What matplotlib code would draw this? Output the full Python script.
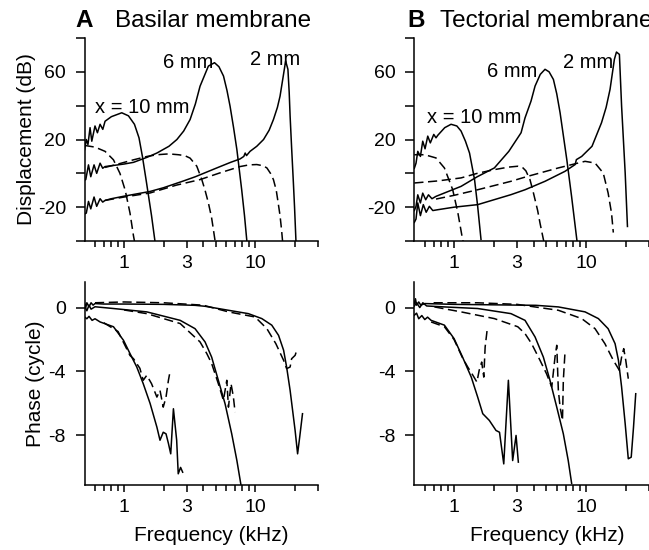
import matplotlib
matplotlib.use("Agg")
import matplotlib.pyplot as plt
from matplotlib.ticker import NullFormatter

plt.rcParams["font.family"] = ["Liberation Sans", "DejaVu Sans"]
plt.rcParams["font.size"] = 14

# ---- displacement (dB) vs frequency (kHz), basilar membrane ----
bm_amp_10 = [(0.5, 14), (0.515, 20), (0.53, 17), (0.55, 27), (0.567, 19), (0.6, 28),
             (0.626, 24), (0.656, 29), (0.688, 26), (0.716, 30.8), (0.8, 33.5),
             (0.96, 35.8), (1.08, 34), (1.2, 29), (1.3, 21), (1.38, 10), (1.48, -5),
             (1.62, -25), (1.72, -40)]
bm_amp_10_d = [(0.5, 16.5), (0.6, 15.5), (0.716, 13), (0.83, 8), (0.93, 0), (1.02, -10),
               (1.11, -23.5), (1.18, -37), (1.2, -40)]
bm_amp_6 = [(0.5, -4), (0.51, -3.7), (0.535, 5), (0.557, -2), (0.59, 5), (0.618, 0),
            (0.656, 6), (0.687, 3), (0.716, 4), (0.8, 4.5), (1.0, 5.5), (1.18, 6.5),
            (1.5, 9.5), (1.78, 12), (2.2, 16), (2.53, 20), (2.85, 25), (3.19, 31.8),
            (3.5, 41), (3.8, 51.5), (4.4, 63.4), (4.9, 65.4), (5.3, 63), (5.74, 57.5),
            (6.1, 49), (6.44, 39.7), (6.85, 27), (7.26, 14), (7.9, -9.7), (8.3, -25),
            (8.65, -40)]
bm_amp_6_d = [(0.716, 3.5), (0.9, 5.5), (1.18, 8), (1.5, 10), (1.78, 11), (2.2, 11.5),
              (2.6, 11), (2.9, 10.5), (3.19, 9), (3.59, 4.2), (3.92, -3.7), (4.15, -10),
              (4.4, -17.5), (4.65, -26), (4.8, -33), (4.95, -40)]
bm_amp_2 = [(0.5, -24), (0.515, -23.5), (0.535, -16.6), (0.557, -21), (0.59, -14),
            (0.618, -19.5), (0.656, -15), (0.687, -17), (0.716, -16), (0.8, -15),
            (1.0, -13.5), (1.58, -10.7), (2.0, -8.5), (2.84, -4.5), (3.5, -2), (5.1, 3.2),
            (6.5, 6.5), (7.67, 8.5), (8.2, 10), (8.4, 12), (8.6, 10.5), (9.15, 13),
            (10.3, 16), (11.6, 20), (12.8, 25.5), (13.8, 31.8), (14.8, 39), (15.5, 45.6),
            (16.4, 57.5), (17.1, 66.4), (17.8, 61.5), (18.2, 48), (18.5, 33.8), (19.0, 15),
            (19.6, -5.7), (20.0, -20), (20.5, -40)]
bm_amp_2_d = [(0.716, -16), (1.0, -14), (1.58, -11.6), (2.5, -7), (3.8, -3.7), (5.5, 0.5),
              (7.67, 4), (9.0, 5), (10.3, 5.2), (11.5, 4.5), (12.3, 3.2), (13.1, 0),
              (13.8, -3.7), (14.5, -10), (15.0, -17.5), (15.5, -25), (15.9, -33), (16.2, -40)]

# ---- displacement (dB), tectorial membrane ----
tm_amp_10 = [(0.5, 3), (0.515, 6), (0.531, 13), (0.556, 10), (0.579, 19), (0.603, 14.5),
             (0.632, 22), (0.661, 18), (0.702, 23), (0.73, 21), (0.753, 22.5), (0.85, 27),
             (0.949, 29), (1.05, 28), (1.13, 25), (1.22, 19), (1.31, 12), (1.43, -3.7),
             (1.51, -19.5), (1.6, -39)]
tm_amp_10_d = [(0.5, 11), (0.6, 11), (0.73, 9.1), (0.845, 3.2), (0.977, -9.7),
               (1.07, -23.5), (1.16, -39), (1.17, -40)]
tm_amp_6 = [(0.5, -22), (0.515, -19.5), (0.531, -12.7), (0.556, -17.5), (0.579, -11.7),
            (0.61, -15.6), (0.64, -12.7), (0.68, -15), (0.73, -13.6), (1.13, -7.7),
            (1.5, -2), (2.02, 3.2), (2.6, 13), (3.22, 24), (3.45, 32.8), (3.83, 42.7),
            (4.11, 51.6), (4.5, 58.5), (4.89, 61.5), (5.25, 60), (5.66, 55.5), (6.0, 47),
            (6.36, 35.8), (7.15, 8.1), (7.77, -13.6), (8.51, -39), (8.55, -40)]
tm_amp_6_d = [(0.5, -5.7), (0.75, -4.5), (1.13, -2.7), (1.5, 0), (2.02, 2.2), (2.6, 3.7),
              (3.04, 4.2), (3.3, 3.5), (3.5, 1.5), (3.76, -3.7), (3.95, -10), (4.11, -15.6),
              (4.3, -22), (4.48, -29.4), (4.75, -39), (4.78, -40)]
tm_amp_2 = [(0.5, -29), (0.515, -27), (0.531, -17.5), (0.556, -25), (0.585, -18.5),
            (0.615, -23), (0.65, -19.5), (0.69, -22), (0.753, -21.5), (1.0, -20),
            (1.51, -18.5), (2.7, -12.6), (3.45, -9.7), (4.89, -4.7), (6.93, 1.2),
            (8.27, 5.2), (8.45, 8.1), (9.27, 10), (11.1, 16), (13.1, 29.9), (14.2, 39),
            (15.2, 49.6), (16.4, 67.4), (17.0, 71.7), (17.9, 70.3), (18.6, 39.7),
            (19.8, 0.2), (20.6, -31.4)]
tm_amp_2_d = [(0.73, -15.2), (1.0, -13), (1.51, -9.7), (2.7, -4.7), (3.6, -1.8),
              (6.17, 3.2), (9.83, 7.1), (11.7, 6.1), (13.5, 0.2), (14.7, -11.6),
              (15.6, -23.5), (16.1, -35)]

# ---- phase (cycle), basilar membrane ----
bm_ph_2 = [(0.5, 0.25), (0.51, 0.0), (0.52, 0.3), (0.54, 0.05), (0.56, 0.3), (0.58, 0.15),
           (0.6, 0.25), (0.7, 0.22), (1.0, 0.22), (2.0, 0.2), (3.48, 0.14), (4.15, 0.08),
           (6.26, -0.17), (8.88, -0.38), (11.25, -0.69), (13.4, -1.1), (15.1, -1.74),
           (16.5, -2.67), (17.4, -3.72), (18.5, -5.18), (20.2, -7.69), (21.1, -9.15),
           (21.9, -8.1), (23.0, -6.64)]
bm_ph_2_d = [(0.6, 0.3), (1.0, 0.35), (2.0, 0.3), (4.0, 0.15), (6.26, -0.27), (10.0, -0.59),
             (12.3, -1.32), (14.4, -2.26), (16.5, -3.3), (17.4, -3.82), (18.5, -3.72),
             (19.0, -3.2), (20.2, -2.99), (20.8, -2.67)]
bm_ph_6 = [(0.5, 0.1), (0.52, -0.2), (0.54, 0.15), (0.56, -0.1), (0.6, 0.05), (0.83, -0.06),
           (1.49, -0.27), (2.68, -0.8), (3.48, -1.32), (4.15, -2.15), (4.66, -3.1),
           (5.24, -4.55), (5.9, -6.02), (6.63, -7.9), (7.26, -9.57), (7.8, -11.1)]
bm_ph_6_d = [(1.0, -0.15), (1.49, -0.38), (2.68, -1.0), (3.8, -2.15), (4.28, -2.88),
             (4.66, -3.5), (5.24, -4.76), (5.73, -5.8), (6.08, -4.55), (6.26, -6.23),
             (6.55, -4.76), (6.83, -5.6), (7.03, -6.54)]
bm_ph_10 = [(0.5, -0.59), (0.52, -0.7), (0.54, -0.55), (0.57, -0.8), (0.6, -0.7),
            (0.656, -0.9), (0.83, -1.2), (0.99, -2.05), (1.11, -2.88), (1.25, -3.72),
            (1.4, -4.76), (1.58, -6.0), (1.78, -7.48), (1.88, -8.3), (1.99, -7.8),
            (2.09, -7.9), (2.18, -8.5), (2.27, -9.15), (2.38, -6.33), (2.52, -8.3),
            (2.59, -10.4), (2.7, -10.0), (2.8, -10.3)]
bm_ph_10_d = [(0.7, -0.95), (0.9, -1.5), (1.11, -3.0), (1.18, -3.2), (1.32, -3.8),
              (1.4, -4.55), (1.49, -4.24), (1.62, -4.76), (1.78, -5.6), (1.88, -5.18),
              (1.99, -6.23), (2.09, -5.6), (2.18, -4.55), (2.24, -4.03)]

# ---- phase (cycle), tectorial membrane ----
tm_ph_2 = [(0.5, 0.25), (0.51, 0.55), (0.52, 0.15), (0.54, 0.35), (0.56, 0.15), (0.6, 0.25),
           (1.0, 0.2), (4.17, 0.14), (6.17, 0.04), (9.83, -0.27), (12.4, -0.69),
           (14.7, -1.32), (16.6, -2.26), (17.6, -3.3), (18.6, -4.97), (19.8, -7.27),
           (20.9, -9.46), (22.0, -9.36), (22.9, -7.48), (23.8, -5.39)]
tm_ph_2_d = [(0.7, 0.3), (1.5, 0.3), (3.0, 0.2), (6.17, -0.17), (9.27, -0.69), (11.7, -1.32),
             (13.9, -2.26), (16.1, -3.3), (17.9, -3.93), (18.6, -3.1), (19.3, -2.57),
             (20.0, -3.3), (20.9, -4.45)]
tm_ph_6 = [(0.5, 0.1), (0.52, 0.3), (0.55, 0.0), (0.58, 0.3), (0.62, 0.1), (0.845, 0.04),
           (1.51, -0.06), (2.7, -0.38), (3.45, -0.8), (4.11, -1.84), (4.75, -3.1),
           (5.33, -4.55), (6.0, -6.23), (6.73, -7.9), (7.33, -9.57), (7.78, -11.0)]
tm_ph_6_d = [(0.71, 0.04), (1.13, -0.27), (2.02, -0.69), (3.04, -1.2), (3.45, -1.63),
             (3.87, -2.26), (4.48, -3.3), (5.02, -4.14), (5.5, -4.97), (5.82, -3.1),
             (6.0, -2.36), (6.17, -5.18), (6.36, -6.23), (6.63, -7.06), (6.73, -4.55),
             (6.93, -2.78)]
tm_ph_10 = [(0.5, -0.48), (0.52, -0.35), (0.54, -0.7), (0.57, -0.5), (0.6, -0.75),
            (0.63, -0.6), (0.67, -0.8), (0.845, -1.1), (1.0, -1.94), (1.16, -3.1),
            (1.35, -4.35), (1.51, -5.6), (1.65, -6.64), (1.85, -7.06), (2.08, -7.69),
            (2.21, -7.8), (2.38, -9.78), (2.58, -4.55), (2.78, -9.57), (2.95, -8.0),
            (3.07, -9.67)]
tm_ph_10_d = [(0.67, -0.9), (0.845, -1.2), (1.0, -2.0), (1.16, -3.15), (1.27, -3.72),
              (1.39, -4.24), (1.49, -4.66), (1.55, -3.93), (1.62, -3.41), (1.68, -4.35),
              (1.72, -2.47), (1.78, -1.42)]

amp_ticks = [-40, -20, 0, 20, 40, 60, 80]
amp_labels = ["", "-20", "", "20", "", "60", ""]
ph_ticks = [-8, -4, 0]
ph_labels = ["-8", "-4", "0"]
freq_ticks = [1, 3, 10]
freq_minor = [0.6, 0.7, 0.8, 0.9, 2, 4, 5, 6, 7, 8, 9, 20, 30]


def style_axis(ax, yticks, ylabels, ylim):
    ax.set_xscale("log")
    ax.set_xlim(0.5, 30)
    ax.set_ylim(*ylim)
    for s in ["top", "right"]:
        ax.spines[s].set_visible(False)
    for s in ["left", "bottom"]:
        ax.spines[s].set_linewidth(1.1)
    ax.set_xticks(freq_ticks, [str(t) for t in freq_ticks])
    ax.set_xticks(freq_minor, minor=True)
    ax.xaxis.set_minor_formatter(NullFormatter())
    ax.set_yticks(yticks, ylabels)
    ax.tick_params(axis="x", which="major", direction="out", length=5, width=1.1, pad=5)
    ax.tick_params(axis="x", which="minor", direction="out", length=4, width=1.1)
    ax.tick_params(axis="y", direction="out", length=6.5, width=1.1, pad=7)
    ax.tick_params(labelsize=14)


def draw(ax, curves):
    for pts, dashed in curves:
        f, v = zip(*pts)
        ls = (0, (6, 3)) if dashed else "-"
        ax.plot(f, v, color="black", lw=1.1, linestyle=ls)


fig = plt.figure(figsize=(6.49, 5.5), dpi=100)
ax_a = fig.add_axes([0.1304, 0.5618, 0.3590, 0.3691])
ax_b = fig.add_axes([0.6384, 0.5618, 0.3616, 0.3691])
ax_c = fig.add_axes([0.1304, 0.1182, 0.3590, 0.3691])
ax_d = fig.add_axes([0.6384, 0.1182, 0.3616, 0.3691])

draw(ax_a, [(bm_amp_10, False), (bm_amp_10_d, True), (bm_amp_6, False), (bm_amp_6_d, True),
            (bm_amp_2, False), (bm_amp_2_d, True)])
draw(ax_b, [(tm_amp_10, False), (tm_amp_10_d, True), (tm_amp_6, False), (tm_amp_6_d, True),
            (tm_amp_2, False), (tm_amp_2_d, True)])
draw(ax_c, [(bm_ph_10, False), (bm_ph_10_d, True), (bm_ph_6, False), (bm_ph_6_d, True),
            (bm_ph_2, False), (bm_ph_2_d, True)])
draw(ax_d, [(tm_ph_10, False), (tm_ph_10_d, True), (tm_ph_6, False), (tm_ph_6_d, True),
            (tm_ph_2, False), (tm_ph_2_d, True)])

for ax in (ax_a, ax_b):
    style_axis(ax, amp_ticks, amp_labels, (-40, 80))
for ax in (ax_c, ax_d):
    style_axis(ax, ph_ticks, ph_labels, (-11.1, 1.6))

ax_a.set_ylabel("Displacement (dB)", fontsize=15)
ax_a.yaxis.set_label_coords(-0.21, 0.5)
ax_c.set_ylabel("Phase (cycle)", fontsize=15)
ax_c.yaxis.set_label_coords(-0.17, 0.5)
ax_c.set_xlabel("Frequency (kHz)", fontsize=15)
ax_c.xaxis.set_label_coords(0.542, -0.2)
ax_d.set_xlabel("Frequency (kHz)", fontsize=15)
ax_d.xaxis.set_label_coords(0.567, -0.2)

# curve labels
ax_a.text(0.6, 39, "x = 10 mm", ha="left", va="center", fontsize=14.5)
ax_a.text(1.98, 65.6, "6 mm", ha="left", va="center", fontsize=14.5)
ax_a.text(9.15, 67.4, "2 mm", ha="left", va="center", fontsize=14.5)
ax_b.text(0.62, 33, "x = 10 mm", ha="left", va="center", fontsize=14.5)
ax_b.text(1.77, 60.4, "6 mm", ha="left", va="center", fontsize=14.5)
ax_b.text(6.7, 65.4, "2 mm", ha="left", va="center", fontsize=14.5)

# panel titles
fig.text(0.1156, 0.9518, "A", fontsize=17.5, fontweight="bold", va="baseline")
fig.text(0.177, 0.9518, "Basilar membrane", fontsize=17.5, va="baseline")
fig.text(0.627, 0.9518, "B", fontsize=17.5, fontweight="bold", va="baseline")
fig.text(0.678, 0.9518, "Tectorial membrane", fontsize=17.5, va="baseline")

fig.savefig("out.png", dpi=100)
plt.close()
